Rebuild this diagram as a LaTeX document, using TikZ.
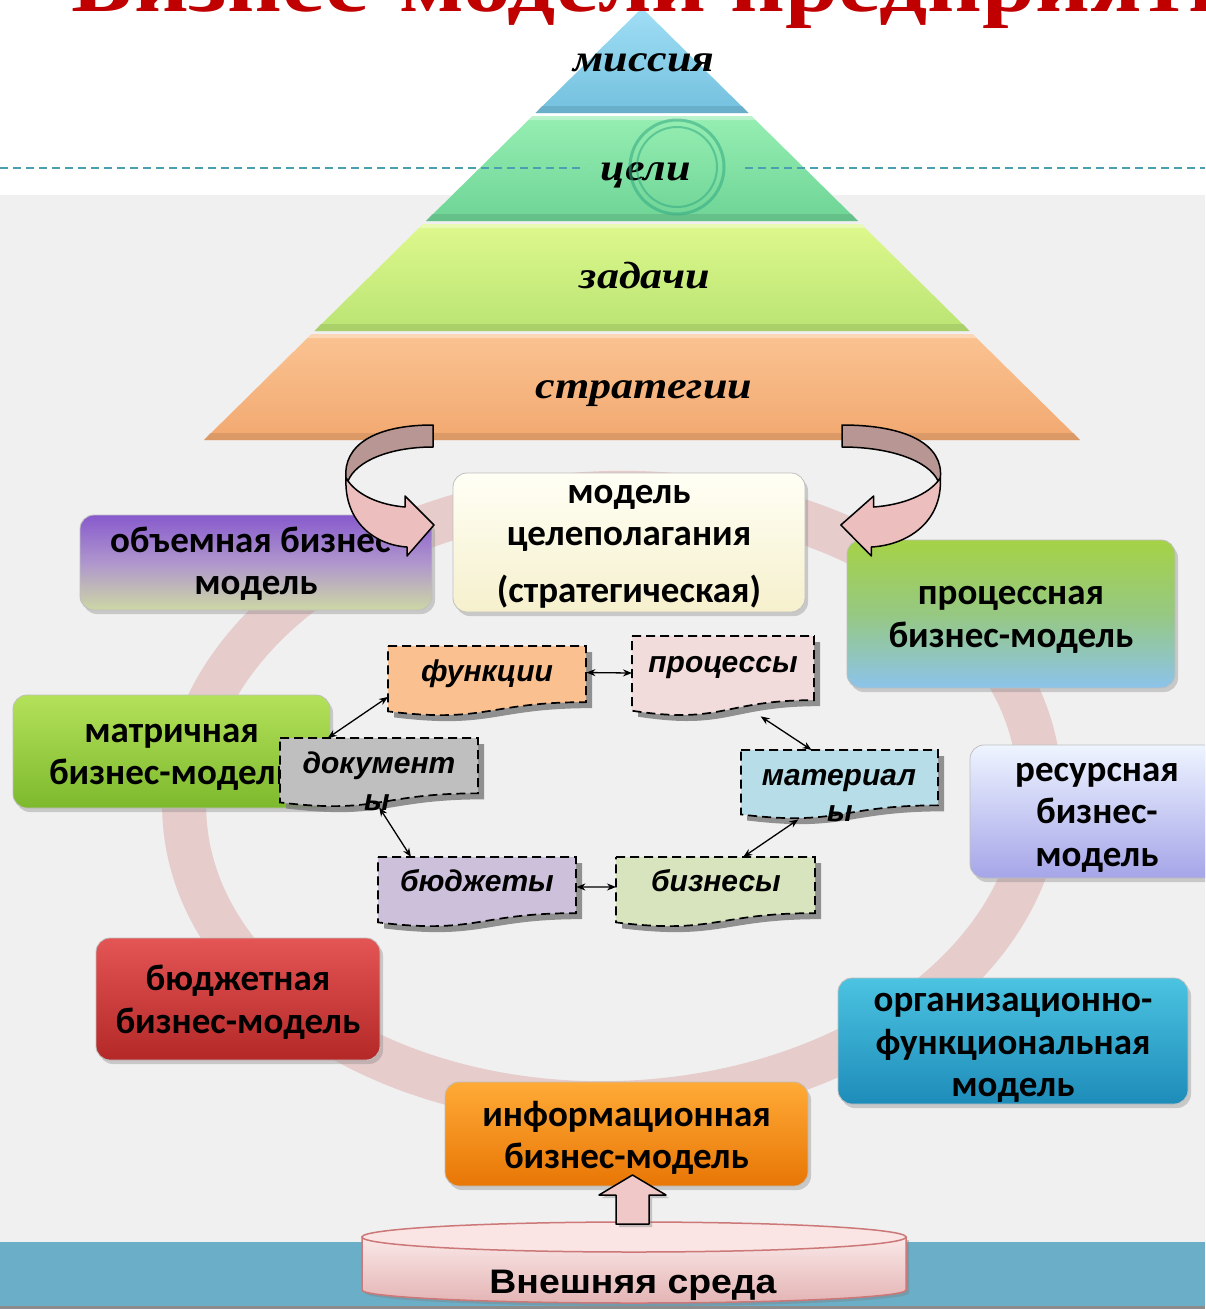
\documentclass[tikz,border=0pt]{standalone}
\usepackage{fontspec}
\usepackage{graphicx}
\setmainfont{Carlito}
\newfontfamily\ttlfont{Liberation Serif}
\newfontfamily\pyrfont{Liberation Serif}
\newfontfamily\docfont{Liberation Sans}
\usetikzlibrary{shadows,arrows.meta}
\newcommand\boxfont{\bfseries\fontsize{37}{42.5}\selectfont}
\definecolor{bggrey}{RGB}{240,240,240}
\definecolor{tealbar}{RGB}{106,174,200}
\definecolor{dashcol}{RGB}{75,160,175}
\definecolor{ttlred}{RGB}{192,0,0}
\definecolor{ringc}{RGB}{231,204,204}
\definecolor{pblueT}{RGB}{160,222,245}\definecolor{pblueB}{RGB}{115,192,222}
\definecolor{pgreenT}{RGB}{150,238,178}\definecolor{pgreenB}{RGB}{110,212,150}
\definecolor{plimeT}{RGB}{222,248,140}\definecolor{plimeB}{RGB}{185,228,115}
\definecolor{porT}{RGB}{250,195,145}\definecolor{porB}{RGB}{242,168,112}
\definecolor{cgreen}{RGB}{50,170,130}
\definecolor{arrback}{RGB}{184,150,147}
\definecolor{arrfront}{RGB}{237,190,190}
\definecolor{modelT}{RGB}{255,255,245}\definecolor{modelB}{RGB}{246,240,205}
\definecolor{objT}{RGB}{135,90,205}\definecolor{objM}{RGB}{175,150,205}\definecolor{objB}{RGB}{205,215,165}
\definecolor{procT}{RGB}{165,210,70}\definecolor{procM}{RGB}{150,200,130}\definecolor{procB}{RGB}{140,195,235}
\definecolor{matT}{RGB}{180,225,90}\definecolor{matB}{RGB}{125,185,45}
\definecolor{resT}{RGB}{238,244,255}\definecolor{resB}{RGB}{165,165,232}
\definecolor{budT}{RGB}{228,85,85}\definecolor{budB}{RGB}{180,40,40}
\definecolor{orgT}{RGB}{75,195,225}\definecolor{orgB}{RGB}{30,140,185}
\definecolor{infT}{RGB}{255,170,55}\definecolor{infB}{RGB}{232,118,5}
\definecolor{funkF}{RGB}{250,192,143}\definecolor{procF}{RGB}{242,220,219}
\definecolor{docF}{RGB}{191,191,191}\definecolor{matF}{RGB}{183,222,232}
\definecolor{budgF}{RGB}{204,192,218}\definecolor{bizF}{RGB}{215,228,189}
\definecolor{cylT}{RGB}{250,232,232}\definecolor{cylB}{RGB}{228,180,180}
\definecolor{cyltop}{RGB}{250,228,228}\definecolor{cylline}{RGB}{205,120,120}
\definecolor{upfill}{RGB}{240,200,200}
% document-shaped box: #1 name, #2 x0, #3 y0, #4 w, #5 h, #6 fill
\newcommand\docshp[6]{%
  \pgfmathsetmacro\dxa{#2}\pgfmathsetmacro\dxb{#2+#4}\pgfmathsetmacro\dxm{#2+#4/2}%
  \pgfmathsetmacro\dya{#3}\pgfmathsetmacro\dyr{#3+0.802*#5}%
  \pgfmathsetmacro\dyl{#3+0.934*#5}\pgfmathsetmacro\dyc{#3+1.108*#5}%
  \fill[docshadow] (\dxa+6,\dya+6) -- (\dxb+6,\dya+6) -- (\dxb+6,\dyr+6) .. controls (\dxm+6,\dyr+6) and (\dxm+6,\dyc+6) .. (\dxa+6,\dyl+6) -- cycle;
  \filldraw[docline, fill=#6] (\dxa,\dya) -- (\dxb,\dya) -- (\dxb,\dyr) .. controls (\dxm,\dyr) and (\dxm,\dyc) .. (\dxa,\dyl) -- cycle;
  \node[docarea, minimum width=#4 pt, minimum height=#5 pt, anchor=north west] (#1) at (\dxa,\dya) {};%
}
% curved block arrow (left one; transformed for the right)
\newcommand\curvedarrowshape{%
  \filldraw[blockline, fill=arrback] (433,425) .. controls (375,425) and (343,445) .. (346,478) -- (348,481) .. controls (356,461) and (390,447) .. (433,447) -- cycle;
  \filldraw[blockline, fill=arrfront] (346,478) .. controls (344,522) and (375,545) .. (407,547) -- (407,556) -- (434,525) -- (405,496) -- (405,507) .. controls (380,505) and (356,495) .. (346,478) -- cycle;
}
\begin{document}
\begin{tikzpicture}[x=1pt,y=-1pt,
  bigbox/.style={rounded corners=14pt, draw=black!25, line width=0.8pt,
    drop shadow={shadow xshift=3pt,shadow yshift=-4pt,opacity=0.35}, inner sep=0pt},
  boxtext/.style={align=center, inner sep=0pt, font=\boxfont, text=black},
  pyrtext/.style={anchor=base, inner sep=0pt, font=\pyrfont\bfseries\itshape\fontsize{38}{40}\selectfont},
  doctext/.style={anchor=base, inner sep=0pt, font=\docfont\bfseries\itshape\fontsize{30}{36}\selectfont},
  docline/.style={draw=black, line width=1.7pt, dash pattern=on 9pt off 5pt},
  docshadow/.style={fill=black!50, opacity=0.85},
  docarea/.style={draw=none, fill=none, inner sep=0pt, rectangle},
  biarrow/.style={{Stealth[length=9pt,width=7pt]}-{Stealth[length=9pt,width=7pt]}, line width=1.3pt},
  blockline/.style={draw=black, line width=1.5pt, line join=round},
  dashsep/.style={dashcol, line width=1.6pt, dash pattern=on 8pt off 5pt},
  bevdark/.style={opacity=0.3},
]
\useasboundingbox (0,0) rectangle (1205,1309);
\clip (0,0) rectangle (1205,1309);
% background
\fill[white] (0,0) rectangle (1205,195);
\fill[bggrey] (0,195) rectangle (1205,1242);
\fill[tealbar] (0,1242) rectangle (1205,1309);
\fill[black!45] (0,1306) rectangle (1205,1309);
% ring
\draw[ringc, line width=44pt, rotate around={2:(612,798)}] (612,798) ellipse [x radius=428, y radius=305];
% pyramid
\shade[top color=pblueT, bottom color=pblueB] (642,8) -- (748.5,113) -- (535.5,113) -- cycle;
\fill[pblueB!70!black, bevdark] (541.6,106) -- (742.4,106) -- (748.5,113) -- (535.5,113) -- cycle;
\shade[top color=pgreenT, bottom color=pgreenB] (532.5,116) -- (751.5,116) -- (858,221) -- (426,221) -- cycle;
\fill[white, opacity=0.35] (532.5,116) -- (751.5,116) -- (755.6,120) -- (528.4,120) -- cycle;
\fill[pgreenB!70!black, bevdark] (432.1,214) -- (851.9,214) -- (858,221) -- (426,221) -- cycle;
\shade[top color=plimeT, bottom color=plimeB] (423,224) -- (861,224) -- (969.5,331) -- (314.5,331) -- cycle;
\fill[white, opacity=0.35] (423,224) -- (861,224) -- (865,228) -- (419,228) -- cycle;
\fill[plimeB!70!black, bevdark] (320.6,324) -- (963.4,324) -- (969.5,331) -- (314.5,331) -- cycle;
\shade[top color=porT, bottom color=porB] (311.5,334) -- (972.5,334) -- (1080,440) -- (204,440) -- cycle;
\fill[white, opacity=0.35] (311.5,334) -- (972.5,334) -- (976.6,338) -- (307.4,338) -- cycle;
\fill[porB!70!black, bevdark] (210.1,433) -- (1073.9,433) -- (1080,440) -- (204,440) -- cycle;
\node[pyrtext] (missia) at (644,71) {\scalebox{1.16}[1]{миссия}};
\node[pyrtext] (celi) at (646,180) {\scalebox{1.16}[1]{цели}};
\node[pyrtext] (zadachi) at (645,288) {\scalebox{1.16}[1]{задачи}};
\node[pyrtext] (strategii) at (644,398) {\scalebox{1.16}[1]{стратегии}};
\draw[cgreen, line width=3pt, opacity=0.55] (677,167) circle [radius=47];
\draw[cgreen, line width=2pt, opacity=0.55] (677,167) circle [radius=40];
\draw[dashsep] (0,168) -- (585,168);
\draw[dashsep] (745,168) -- (1205,168);
% big boxes
\node[bigbox, top color=modelT, bottom color=modelB, minimum width=352pt, minimum height=139pt] (model) at (629,542.5) {};
\node[boxtext] (modelt) at ([yshift=-4pt]model.center) {модель\\целеполагания\\[14pt](стратегическая)};
\node[bigbox, top color=objT, bottom color=objB, middle color=objM, minimum width=352pt, minimum height=95pt] (obj) at (256,562.5) {};
\node[boxtext] (objt) at ([yshift=-1pt]obj.center) {объемная бизнес-\\модель};
\node[bigbox, top color=procT, bottom color=procB, middle color=procM, minimum width=328pt, minimum height=148pt] (proc) at (1011,614) {};
\node[boxtext] (proct) at ([yshift=-6pt]proc.center) {процессная\\бизнес-модель};
\node[bigbox, top color=matT, bottom color=matB, minimum width=317pt, minimum height=113pt] (matr) at (171.5,751.5) {};
\node[boxtext] (matrt) at ([yshift=-6pt]matr.center) {матричная\\бизнес-модель};
\node[bigbox, top color=resT, bottom color=resB, minimum width=254pt, minimum height=133pt] (res) at (1097,811.5) {};
\node[boxtext] (rest) at ([yshift=-6pt]res.center) {ресурсная\\бизнес-\\модель};
\node[bigbox, top color=budT, bottom color=budB, minimum width=284pt, minimum height=122pt] (bud) at (238,999) {};
\node[boxtext] (budt) at ([yshift=-3pt]bud.center) {бюджетная\\бизнес-модель};
\node[bigbox, top color=orgT, bottom color=orgB, minimum width=350pt, minimum height=126pt] (org) at (1013,1041) {};
\node[boxtext] (orgt) at ([yshift=-7pt]org.center) {организационно-\\функциональная\\модель};
\node[bigbox, top color=infT, bottom color=infB, minimum width=363pt, minimum height=104pt] (inf) at (626.5,1134) {};
\node[boxtext] (inft) at ([yshift=-4pt]inf.center) {информационная\\бизнес-модель};
% document shapes
\docshp{funk}{388}{646}{198}{70}{funkF}
\docshp{procs}{632}{636}{182}{80}{procF}
\docshp{docs}{280}{738}{198}{69}{docF}
\docshp{mats}{741}{750}{197}{69}{matF}
\docshp{budg}{378}{857}{198}{70}{budgF}
\docshp{biz}{616}{857}{199}{70}{bizF}
\node[doctext] (funkt) at (487,681) {функции};
\node[doctext] (procst) at (723,672) {процессы};
\node[doctext] (docst) at (379,773) {документ};
\node[doctext] (docst2) at (377,810) {ы};
\node[doctext] (matst) at (839,785) {материал};
\node[doctext] (matst2) at (840,821) {ы};
\node[doctext] (budgt) at (477,891) {бюджеты};
\node[doctext] (bizt) at (716,891) {бизнесы};
% connectors
\draw[biarrow] (funk.5) -- (procs.178);
\draw[biarrow] (funk.189) -- (docs.146);
\draw[biarrow] (docs.south) -- (budg.152);
\draw[biarrow] (budg.3) -- (biz.177);
\draw[biarrow] (biz.52) -- (mats.220);
\draw[biarrow] (mats.129) -- (procs.-47);
% curved arrows
\curvedarrowshape
\begin{scope}[xshift=842pt, xscale=-1.13, xshift=-433pt]
\curvedarrowshape
\end{scope}
% external environment cylinder
\shade[top color=cylT, bottom color=cylB, draw=cylline, line width=1.5pt, drop shadow={shadow xshift=3pt,shadow yshift=-3pt,opacity=0.4}] (362,1237) -- (362,1290) arc[start angle=180, end angle=0, x radius=272, y radius=13] -- (906,1237) -- cycle;
\filldraw[fill=cyltop, draw=cylline, line width=1.5pt] (634,1237) ellipse [x radius=272, y radius=15];
\node[anchor=base, inner sep=0pt, font=\docfont\bfseries\fontsize{34}{36}\selectfont] (env) at (633,1293) {\scalebox{1.1}[1]{Внешняя среда}};
\filldraw[blockline, fill=upfill, drop shadow={shadow xshift=3pt,shadow yshift=-3pt,opacity=0.4}] (616,1224) -- (616,1195) -- (599,1195) -- (632.5,1175) -- (666,1195) -- (649,1195) -- (649,1224) -- cycle;
% title
\node[anchor=base west, inner sep=0pt, text=ttlred] (title) at (71,12) {\scalebox{1.19}[1]{\ttlfont\bfseries\fontsize{80}{80}\selectfont Бизнес-модели предприятия}};
\end{tikzpicture}
\end{document}
